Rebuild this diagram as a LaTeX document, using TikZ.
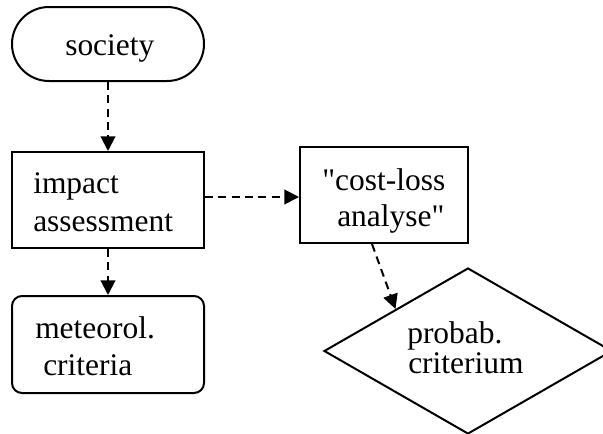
\documentclass[tikz,border=0pt]{standalone}
\usepackage{fontspec}
\defaultfontfeatures{Ligatures=TeXOff}
\setmainfont{Liberation Serif}[Ligatures=TeXOff]
\usetikzlibrary{arrows.meta,shapes.geometric}
\tikzset{
  shp/.style={draw=black,line width=1.5pt,inner sep=0pt},
  lbl/.style={inner sep=0pt,anchor=base west,font=\fontsize{23.6}{28}\selectfont},
  arr/.style={line width=1.5pt,dash pattern=on 6pt off 4pt,-{Triangle[length=11pt,width=11pt]}}
}
\begin{document}
\begin{tikzpicture}[x=0.75pt,y=-0.75pt]
\useasboundingbox (0,0) rectangle (603,433);
\begin{scope}
\clip (0,0) rectangle (603,433);
\node[shp,minimum width=144pt,minimum height=55.5pt,rounded corners=27.7pt] (soc) at (108,44) {};
\node[shp,minimum width=144pt,minimum height=72pt] (imp) at (108,200) {};
\node[shp,minimum width=126pt,minimum height=72pt] (cost) at (384,195) {};
\node[shp,minimum width=144pt,minimum height=72.75pt,rounded corners=7.5pt] (met) at (108,344.5) {};
\node[shp,diamond,minimum width=216pt,minimum height=124.5pt] (dia) at (468,351) {};
\end{scope}
\node[lbl] (t1) at (65,55) {society};
\node[lbl] (t2) at (33,193) {impact};
\node[lbl] (t3) at (33,231) {assessment};
\node[lbl] (t4) at (322,190) {"cost-loss};
\node[lbl] (t5) at (337,226) {analyse"};
\node[lbl] (t6) at (35,338) {meteorol.};
\node[lbl] (t7) at (43,375) {criteria};
\node[lbl] (t8) at (407,343) {probab.};
\node[lbl] (t9) at (408,373) {criterium};
\draw[arr] (soc.south) -- (imp.north);
\draw[arr] ([yshift=2.25pt]imp.east) -- ([yshift=-1.5pt]cost.west);
\draw[arr] (imp.south) -- (met.north);
\draw[arr] ([xshift=-9pt]cost.south) -- (dia.north west);
\end{tikzpicture}
\end{document}
